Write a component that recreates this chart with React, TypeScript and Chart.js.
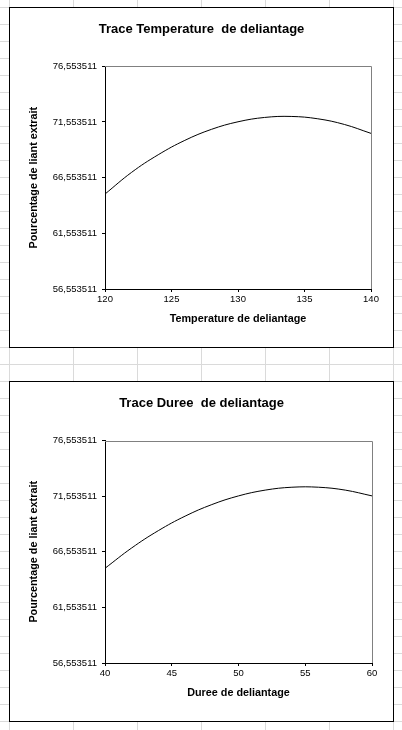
import React, { useEffect, useRef } from "react"
import { Chart, registerables } from "chart.js"

Chart.register(...registerables)

const yTicks = [56.553511, 61.553511, 66.553511, 71.553511, 76.553511]

const tempX = [120, 122, 124, 126, 128, 130, 132, 134, 136, 138, 140]
const tempY = [65.08, 67.03, 68.61, 69.9, 70.89, 71.57, 71.96, 72.05, 71.84, 71.33, 70.53]
const tempTicks = [120, 125, 130, 135, 140]

const dureeX = [40, 42, 44, 46, 48, 50, 52, 54, 56, 58, 60]
const dureeY = [65.07, 66.9, 68.46, 69.76, 70.8, 71.58, 72.1, 72.36, 72.36, 72.1, 71.58]
const dureeTicks = [40, 45, 50, 55, 60]

const FONT = "'Liberation Sans', Arial, sans-serif"

// gray top and right edges of the plot area, like Excel
const plotEdges = {
    id: "plotEdges",
    afterDraw(chart: Chart) {
        const { ctx, chartArea } = chart
        const { top, right, bottom, left } = chartArea
        ctx.save()
        ctx.strokeStyle = "#808080"
        ctx.lineWidth = 1
        ctx.beginPath()
        ctx.moveTo(left, Math.round(top) + 0.5)
        ctx.lineTo(Math.round(right) + 0.5, Math.round(top) + 0.5)
        ctx.lineTo(Math.round(right) + 0.5, bottom)
        ctx.stroke()
        ctx.restore()
    },
}

interface ChartBoxProps {
    top: number
    title: string
    xTitle: string
    xs: number[]
    ys: number[]
    xTicks: number[]
    padRight: number
    titleBottom: number
}

const ChartBox: React.FC<ChartBoxProps> = ({ top, title, xTitle, xs, ys, xTicks, padRight, titleBottom }) => {
    const canvasRef = useRef<HTMLCanvasElement>(null)

    useEffect(() => {
        if (!canvasRef.current) return
        const chart = new Chart(canvasRef.current, {
            type: "line",
            data: {
                datasets: [
                    {
                        data: xs.map((x, i) => ({ x, y: ys[i] })),
                        borderColor: "#000",
                        borderWidth: 1,
                        pointRadius: 0,
                        fill: false,
                        tension: 0.4,
                    },
                ],
            },
            options: {
                responsive: false,
                animation: false,
                layout: { padding: 0 },
                plugins: {
                    legend: { display: false },
                    tooltip: { enabled: false },
                    title: {
                        display: true,
                        text: title,
                        color: "#000",
                        font: { family: FONT, size: 13, weight: "bold" },
                        padding: { top: 14, bottom: titleBottom },
                    },
                },
                scales: {
                    x: {
                        type: "linear",
                        min: xTicks[0],
                        max: xTicks[xTicks.length - 1],
                        afterBuildTicks: (s) => {
                            s.ticks = xTicks.map((v) => ({ value: v }))
                        },
                        afterFit: (s) => {
                            s.height = 58
                        },
                        grid: { drawOnChartArea: false, tickLength: 3, color: "#000" },
                        border: { color: "#000", width: 1 },
                        ticks: {
                            color: "#000",
                            padding: 2,
                            maxRotation: 0,
                            font: { family: FONT, size: 9.5 },
                        },
                        title: {
                            display: true,
                            text: xTitle,
                            color: "#000",
                            font: { family: FONT, size: 10.8, weight: "bold" },
                            padding: { top: 0, bottom: 21 },
                        },
                    },
                    y: {
                        type: "linear",
                        min: yTicks[0],
                        max: yTicks[yTicks.length - 1],
                        afterBuildTicks: (s) => {
                            s.ticks = yTicks.map((v) => ({ value: v }))
                        },
                        afterFit: (s) => {
                            s.width = 95
                        },
                        grid: { drawOnChartArea: false, tickLength: 3, color: "#000" },
                        border: { color: "#000", width: 1 },
                        ticks: {
                            color: "#000",
                            padding: 5,
                            font: { family: FONT, size: 9.5 },
                            callback: (v) => Number(v).toFixed(6).replace(".", ","),
                        },
                        title: {
                            display: true,
                            text: "Pourcentage de liant extrait",
                            color: "#000",
                            font: { family: FONT, size: 10.8, weight: "bold" },
                            padding: { top: 17.5, bottom: 0 },
                        },
                    },
                    // empty right axis: keeps the right margin without shifting the title
                    yRight: {
                        type: "linear",
                        position: "right",
                        display: true,
                        grid: { display: false },
                        border: { display: false },
                        ticks: { display: false },
                        afterFit: (s) => {
                            s.width = padRight
                        },
                    },
                },
            },
            plugins: [plotEdges],
        })
        return () => chart.destroy()
    }, [])

    return (
        <div
            style={{
                position: "absolute",
                left: 9,
                top,
                width: 383,
                height: 339,
                border: "1px solid #000",
                background: "#fff",
            }}
        >
            <canvas ref={canvasRef} width={383} height={339} style={{ display: "block" }} />
        </div>
    )
}

const App: React.FC = () => {
    return (
        <div
            style={{
                position: "absolute",
                left: 0,
                top: 0,
                width: 402,
                height: 730,
                overflow: "hidden",
                background: "#fff",
                backgroundImage:
                    "linear-gradient(to right, #dadada 1px, transparent 1px), linear-gradient(to bottom, #dadada 1px, transparent 1px)",
                backgroundSize: "64px 17px",
                backgroundPosition: "9px 7px",
            }}
        >
            <ChartBox
                top={7}
                title="Trace Temperature  de deliantage"
                xTitle="Temperature de deliantage"
                xs={tempX}
                ys={tempY}
                xTicks={tempTicks}
                padRight={22}
                titleBottom={28.7}
            />
            <ChartBox
                top={381}
                title="Trace Duree  de deliantage"
                xTitle="Duree de deliantage"
                xs={dureeX}
                ys={dureeY}
                xTicks={dureeTicks}
                padRight={21}
                titleBottom={29}
            />
        </div>
    )
}

export default App
